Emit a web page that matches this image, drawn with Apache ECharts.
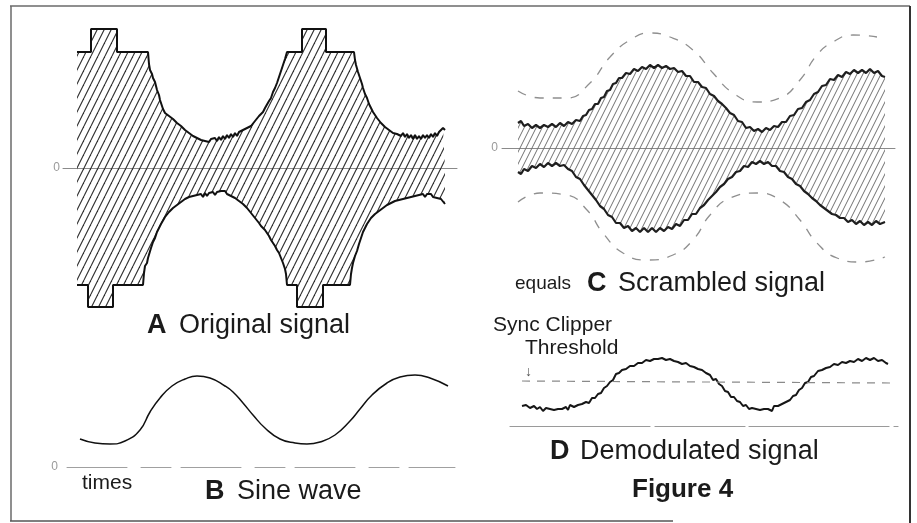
<!DOCTYPE html>
<html><head><meta charset="utf-8">
<script src="https://cdn.jsdelivr.net/npm/echarts@6/dist/echarts.min.js"></script>
<style>html,body{margin:0;padding:0;background:#fff}#c{width:917px;height:523px}</style>
</head><body><div id="c"></div>
<script>
// ---- Data (time units, amplitude units) ----
const origUpper = [[0,116],[14,116],[14,139],[40,139],[40,116],[71,116],
[72,104],[73,98],[75,94],[76,90],[78,86],[79,82],[80,78],[81,76],[82,73],[83,68],[84,66],[85,62],[86,59],[87,58],[88,55],[90,56],[92,52],[94,53],[96,49],[98,50],[100,45],[102,46],[104,42],[106,43],[108,38],[110,39],[112,35],[114,36],[116,32],[118,34],[120,30],[122,31],[124,28],[126,30],[128,27],[130,29],[132,26],[134,29],[136,27],[138,30],[140,27],[142,31],[144,28],[146,32],[148,29],[150,33],[152,30],[154,34],[156,31],[158,35],[160,32],[162,36],[164,34],[166,38],[168,36],[170,40],[172,39],[174,42],[176,42],[178,47],[180,48],[182,52],[184,54],[186,56],[188,60],[190,62],[192,67],[194,70],[196,76],[198,80],[200,85],[202,91],[204,97],[206,103],[208,109],[210,116],[225,116],[225,139],[249,139],[249,116],[277,116],
[278,108],[279,103],[281,96],[283,90],[285,84],[286,80],[288,74],[290,70],[292,64],[294,62],[296,56],[298,55],[300,50],[302,49],[304,45],[306,45],[308,41],[310,42],[312,38],[314,39],[316,35],[318,37],[320,34],[322,36],[324,32],[326,35],[328,31],[330,34],[332,30],[334,33],[336,29],[338,33],[340,29],[342,32],[344,29],[346,33],[348,30],[350,33],[352,30],[354,34],[356,31],[358,35],[360,32],[362,36],[364,35],[366,40],[368,38]];

const origLower = [[0,-117],[11,-117],[11,-139],[36,-139],[36,-117],[66,-117],[67,-105],[68,-98],[70,-95],[71,-90],[72,-88],[74,-80],[76,-74],[78,-70],[80,-64],[82,-62],[84,-56],[86,-54],[88,-49],[90,-48],[92,-44],[94,-44],[96,-40],[98,-41],[100,-37],[102,-38],[104,-34],[106,-35],[108,-31],[110,-33],[112,-29],[114,-31],[116,-28],[118,-30],[120,-27],[122,-29],[124,-26],[126,-29],[128,-25],[130,-28],[132,-25],[134,-27],[136,-24],[138,-27],[140,-24],[142,-26],[144,-23],[146,-25],[148,-23],[150,-26],[152,-25],[154,-28],[156,-27],[158,-30],[160,-30],[162,-33],[164,-33],[166,-36],[168,-37],[170,-40],[172,-42],[174,-45],[176,-47],[178,-50],[180,-52],[182,-55],[184,-58],[186,-59],[188,-62],[190,-64],[192,-68],[194,-72],[196,-74],[198,-78],[200,-82],[202,-85],[204,-90],[206,-95],[208,-101],[209,-106],[210,-117],[220,-117],[220,-139],[246,-139],[246,-117],[273,-117],[274,-106],[275,-100],[276,-95],[278,-88],[280,-83],[282,-76],[284,-70],[286,-64],[288,-60],[290,-56],[292,-54],[294,-50],[296,-49],[298,-46],[300,-46],[302,-43],[304,-43],[306,-40],[308,-41],[310,-37],[312,-38],[314,-35],[316,-36],[318,-33],[320,-35],[322,-32],[324,-34],[326,-31],[328,-33],[330,-30],[332,-32],[334,-29],[336,-31],[338,-28],[340,-30],[342,-27],[344,-29],[346,-26],[348,-29],[350,-26],[352,-28],[354,-26],[356,-29],[358,-27],[360,-30],[362,-28],[364,-31],[366,-33],[368,-36]];

const sineWave = [[3,28],[18,24],[33,23],[48,26],[63,37],[73,55],[83,69],[95,81],[108,88],[120,91],[133,89],[148,81],[156,75],[166,64],[176,52],[188,39],[203,28],[218,24],[230,23],[243,25],[258,32],[273,46],[283,58],[295,72],[310,84],[323,90],[338,92],[353,89],[371,81]];

const scrUpper = [[0,25],[3,27],[6,22],[10,24],[14,20],[18,23],[22,20],[26,23],[30,21],[34,24],[38,21],[42,25],[46,22],[50,26],[54,24],[58,28],[62,27],[65,32],[68,33],[71,38],[74,39],[77,44],[80,44],[83,50],[86,51],[89,57],[92,58],[95,64],[98,65],[101,70],[104,70],[108,75],[112,74],[116,79],[120,77],[124,81],[128,79],[132,83],[136,80],[140,83],[144,80],[148,82],[152,79],[156,80],[160,76],[164,77],[168,72],[172,72],[176,66],[180,66],[184,61],[188,60],[192,54],[196,52],[200,47],[204,44],[208,40],[212,35],[216,33],[220,27],[224,26],[228,20],[232,21],[236,17],[240,19],[244,16],[248,20],[252,18],[256,22],[260,21],[264,26],[268,26],[272,32],[276,33],[280,39],[284,40],[288,46],[292,48],[296,54],[300,56],[304,62],[308,63],[312,69],[316,68],[320,73],[324,71],[328,76],[332,74],[336,78],[340,75],[344,78],[348,75],[352,79],[356,75],[360,77],[364,72],[367,71]];

const scrLower = [[0,-24],[3,-26],[6,-21],[10,-23],[14,-18],[18,-20],[22,-16],[26,-19],[30,-15],[34,-18],[38,-15],[42,-18],[46,-17],[50,-21],[54,-23],[58,-29],[62,-31],[66,-37],[70,-42],[74,-47],[78,-52],[82,-58],[86,-61],[90,-67],[94,-69],[98,-75],[102,-75],[106,-80],[110,-78],[114,-83],[118,-80],[122,-84],[126,-80],[130,-84],[134,-80],[138,-84],[142,-80],[146,-83],[150,-79],[154,-81],[158,-76],[162,-78],[166,-72],[170,-72],[174,-66],[178,-66],[182,-60],[186,-57],[190,-52],[194,-48],[198,-44],[202,-39],[206,-36],[210,-31],[214,-29],[218,-24],[222,-23],[226,-18],[230,-19],[234,-14],[238,-16],[242,-13],[246,-16],[250,-14],[254,-18],[258,-18],[262,-23],[266,-24],[270,-29],[274,-31],[278,-36],[282,-38],[286,-43],[290,-46],[294,-50],[298,-53],[302,-57],[306,-60],[310,-63],[314,-66],[318,-67],[322,-70],[326,-70],[330,-74],[334,-72],[338,-76],[342,-73],[346,-77],[350,-74],[354,-77],[358,-73],[362,-76],[367,-74]];

const dashUpper = [[0,57],[22,50],[49,50],[72,65],[92,91],[112,108],[132,115],[152,111],[175,98],[195,75],[215,55],[239,46],[262,50],[282,68],[299,93],[315,106],[335,113],[359,111]];
const dashLower = [[0,-54],[22,-45],[49,-47],[69,-62],[85,-85],[105,-105],[129,-112],[155,-107],[175,-92],[192,-67],[212,-50],[239,-45],[262,-52],[282,-72],[299,-95],[319,-110],[342,-114],[367,-109]];

const demod = [[0,20],[4,21],[8,18],[12,20],[15,17],[18,19],[21,15],[24,18],[28,17],[32,16],[36,17],[40,17],[44,19],[46,16],[48,21],[52,19],[56,21],[60,22],[64,24],[67,23],[70,28],[73,28],[76,32],[79,33],[82,38],[85,40],[88,44],[91,46],[94,52],[97,53],[100,56],[104,57],[108,60],[112,60],[116,63],[120,63],[124,66],[128,65],[132,67],[136,67],[140,68],[144,66],[148,67],[152,65],[156,64],[160,62],[164,63],[168,60],[172,59],[176,57],[180,56],[184,53],[188,51],[191,46],[194,47],[197,42],[200,40],[203,35],[206,34],[209,29],[212,29],[215,25],[218,24],[221,20],[224,21],[227,17],[230,18],[234,17],[238,16],[242,17],[246,17],[250,15],[252,20],[256,20],[260,22],[264,24],[268,26],[271,30],[274,31],[277,36],[280,38],[283,43],[286,44],[289,49],[292,50],[296,55],[300,56],[304,58],[308,59],[312,62],[316,61],[320,64],[324,63],[328,65],[332,64],[336,67],[340,65],[344,68],[348,66],[352,68],[356,65],[360,66],[364,63],[366,62]];
const threshold = [[0,45],[368,43]];

const zeroTick = ['0'];

// ---- styles ----
function hatch(color, w, h, lw) {
  const c = document.createElement('canvas');
  c.width = w; c.height = h;
  const g = c.getContext('2d');
  g.strokeStyle = color; g.lineWidth = lw;
  for (const dx of [-w, 0, w]) {
    g.beginPath(); g.moveTo(dx, h); g.lineTo(dx + w, 0); g.stroke();
  }
  return c;
}
const hatchA = { image: hatch('#2e2e2e', 7, 14, 1.1), repeat: 'repeat' };
const hatchC = { image: hatch('#707070', 6, 12, 1), repeat: 'repeat' };
const FONT = '"Liberation Sans", Arial, sans-serif';
const INK = '#1b1b1b';

function yAx(idx, min, max, margin, showZero) {
  return { gridIndex: idx, type: 'value', min: min, max: max, interval: (min < 0 ? -min : max),
    axisLine: { show: false }, axisTick: { show: false }, splitLine: { show: false },
    axisLabel: { show: showZero, margin: margin, color: '#9a9a9a', fontSize: 12, fontFamily: FONT,
      formatter: v => (v === 0 ? zeroTick[0] : '') } };
}
function xAx(idx, min, max, line) {
  return { gridIndex: idx, type: 'value', min: min, max: max,
    axisLine: line ? { show: true, onZero: true, lineStyle: line } : { show: false },
    axisTick: { show: false }, axisLabel: { show: false }, splitLine: { show: false } };
}
function ln(idx, data, opt) {
  return Object.assign({ type: 'line', xAxisIndex: idx, yAxisIndex: idx, data: data,
    showSymbol: false, symbol: 'none', silent: true, animation: false,
    lineStyle: { color: '#111', width: 2 } }, opt || {});
}

const chart = echarts.init(document.getElementById('c'), null, { renderer: 'canvas' });
function txt(x, y, s, size, bold, color) {
  return { type: 'text', x: x, y: y, silent: true,
    style: { text: s, font: (bold ? 'bold ' : '') + size + 'px ' + FONT, fill: color || INK, verticalAlign: 'middle' } };
}
function seg(x1, y1, x2, y2, color, w) {
  return { type: 'line', silent: true, shape: { x1, y1, x2, y2 }, style: { stroke: color, lineWidth: w } };
}

chart.setOption({
  animation: false,
  backgroundColor: '#fff',
  grid: [
    { left: 63, top: 18, width: 394, height: 300 },
    { left: 67, top: 367, width: 388, height: 100 },
    { left: 502, top: 18, width: 393, height: 260 },
    { left: 510, top: 346, width: 388, height: 80 }
  ],
  xAxis: [
    xAx(0, -14, 380, { color: '#8a8a8a', width: 1 }),
    xAx(1, -10, 378, { color: '#a0a0a0', width: 1, type: [60, 14, 30, 10] }),
    xAx(2, -16, 377, { color: '#8a8a8a', width: 1 }),
    xAx(3, -12, 376, { color: '#9a9a9a', width: 1.2, type: [140, 5, 90, 4] })
  ],
  yAxis: [
    yAx(0, -150, 150, 3, true),
    yAx(1, 0, 100, 9, true),
    yAx(2, -130, 130, 4, true),
    yAx(3, 0, 80, 4, false)
  ],
  series: [
    ln(0, origUpper, { areaStyle: { color: hatchA, opacity: 1 }, lineStyle: { color: '#111', width: 2 } }),
    ln(0, origLower, { areaStyle: { color: hatchA, opacity: 1 }, lineStyle: { color: '#111', width: 2 } }),
    ln(1, sineWave, { smooth: 0.5, lineStyle: { color: '#111', width: 1.5 } }),
    ln(2, scrUpper, { areaStyle: { color: hatchC, opacity: 1 }, lineStyle: { color: '#1e1e1e', width: 2.2 } }),
    ln(2, scrLower, { areaStyle: { color: hatchC, opacity: 1 }, lineStyle: { color: '#1e1e1e', width: 2.2 } }),
    ln(2, dashUpper, { smooth: 0.5, lineStyle: { color: '#8f8f8f', width: 1.3, type: [9, 9] } }),
    ln(2, dashLower, { smooth: 0.5, lineStyle: { color: '#8f8f8f', width: 1.3, type: [9, 9] } }),
    ln(3, demod, { lineStyle: { color: '#161616', width: 2 } }),
    ln(3, threshold, { lineStyle: { color: '#8a8a8a', width: 1.2, type: [8, 7] } })
  ],
  graphic: [
    seg(10, 6, 910, 6, '#6a6a6a', 1.5),
    seg(11, 6, 11, 521, '#6a6a6a', 1.5),
    seg(910, 6, 910, 523, '#333', 2),
    seg(10, 521, 673, 521, '#555', 1.5),
    txt(147, 326, 'A', 27, true),
    txt(179, 326, 'Original signal', 27, false),
    txt(82, 483, 'times', 21, false),
    txt(205, 492, 'B', 27, true),
    txt(237, 492, 'Sine wave', 27, false),
    txt(515, 284, 'equals', 19, false),
    txt(587, 284, 'C', 27, true),
    txt(618, 284, 'Scrambled signal', 27, false),
    txt(493, 325, 'Sync Clipper', 21, false),
    txt(525, 348, 'Threshold', 21, false),
    txt(525, 372, '↓', 14, false, '#555'),
    txt(550, 452, 'D', 27, true),
    txt(580, 452, 'Demodulated signal', 27, false),
    txt(632, 490, 'Figure 4', 26, true)
  ]
});
</script></body></html>
